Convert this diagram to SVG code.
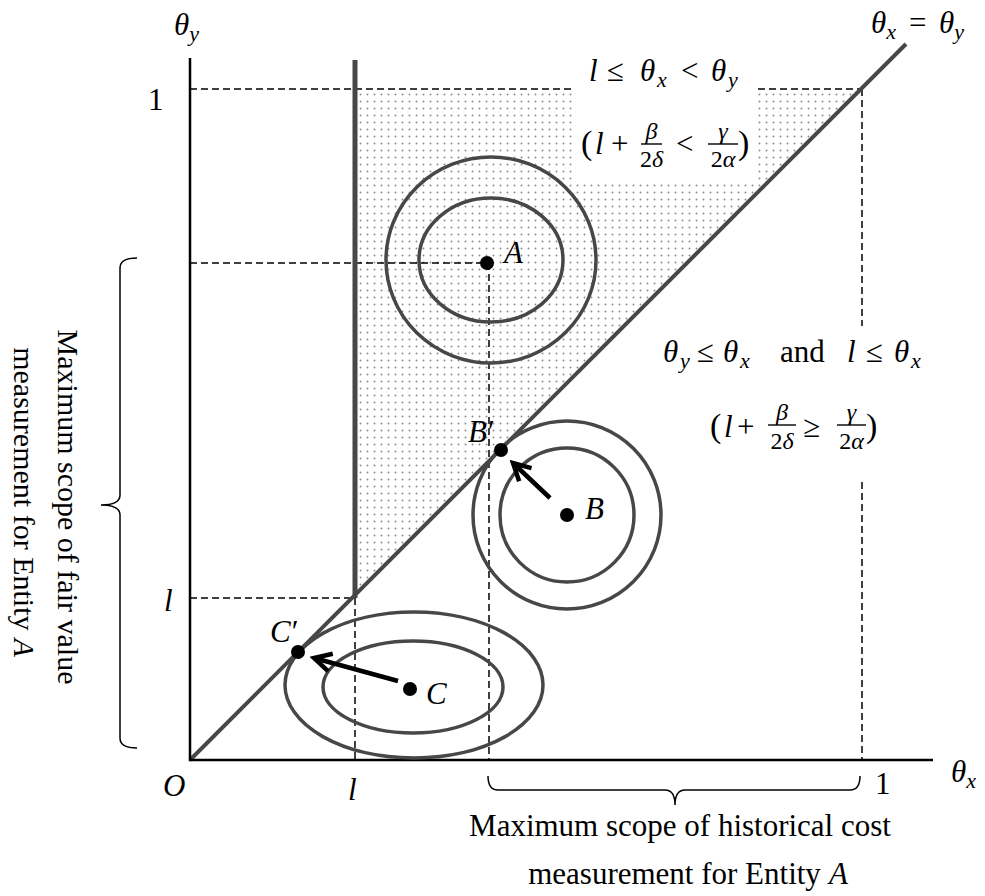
<svg xmlns="http://www.w3.org/2000/svg" width="985" height="896" viewBox="0 0 985 896">
<style>
.m{font-family:"Liberation Serif","DejaVu Serif",serif;font-size:31px;fill:#000}
.f{font-family:"Liberation Serif","DejaVu Serif",serif;font-size:24px;fill:#000}
.i{font-style:italic}
.s{font-size:22px}
.p{font-size:34px}
.t{font-family:"Liberation Serif",serif;font-size:31px;fill:#000}
.tl{font-family:"Liberation Serif",serif;font-size:30px;fill:#000}
.ax{stroke:#000;stroke-width:2.5;fill:none}
.ds{stroke:#000;stroke-width:1.5;stroke-dasharray:7 4;fill:none}
.ring{stroke:#474747;stroke-width:3.5;fill:none}
.br{stroke:#000;stroke-width:1.5;fill:none}
.ar{stroke:#000;stroke-width:4.5;fill:none}
.bar{stroke:#000;stroke-width:1.4}
.dot{fill:#000}
</style>
<defs>
<pattern id="dots" width="7" height="7" patternUnits="userSpaceOnUse"><circle cx="3.5" cy="3.5" r="0.95" fill="#8a8a8a"/></pattern>
<marker id="ah" viewBox="-24 -14 28 28" markerWidth="28" markerHeight="28" refX="0" refY="0" orient="auto" markerUnits="userSpaceOnUse"><path d="M-17,-9 L0,0 L-17,9" fill="none" stroke="#000" stroke-width="4.5"/></marker>
</defs>
<rect width="985" height="896" fill="#fff"/>
<g id="region">
<polygon points="357,89 861,89 357,593" fill="url(#dots)"/>
<rect x="575" y="50" width="183" height="130" fill="#fff"/>
</g>
<g id="guides">
<path class="ds" d="M190,89 H575 M758,89 H862 M862,89 V326 M862,482 V760 M190,263 H487 M489,263 V760 M190,598 H355 M355,598 V760"/>
</g>
<g id="boundaries">
<path d="M355,60 V598" stroke="#474747" stroke-width="5" fill="none"/>
<path d="M190,760 L906,44" stroke="#474747" stroke-width="4" fill="none"/>
</g>
<g id="axes">
<path class="ax" d="M190,58 V760 H933"/>
</g>
<g id="nodeA">
<ellipse class="ring" cx="491" cy="260" rx="105" ry="103"/>
<ellipse class="ring" cx="491" cy="260" rx="72" ry="62"/>
<circle class="dot" cx="487" cy="263" r="7"/>
<text class="m i" x="504" y="263">A</text>
</g>
<g id="nodeB">
<circle class="ring" cx="567" cy="515" r="94"/>
<circle class="ring" cx="567" cy="515" r="67"/>
<circle class="dot" cx="567" cy="515" r="7"/>
<text class="m i" x="585" y="519">B</text>
</g>
<g id="nodeBp">
<circle class="dot" cx="501" cy="450" r="7"/>
<text class="m" x="468" y="442"><tspan class="i">B</tspan><tspan dx="1">′</tspan></text>
</g>
<g id="nodeC">
<ellipse class="ring" cx="414" cy="685" rx="129" ry="73"/>
<ellipse class="ring" cx="413" cy="687" rx="90" ry="46"/>
<circle class="dot" cx="410" cy="689" r="7"/>
<text class="m i" x="426" y="704">C</text>
</g>
<g id="nodeCp">
<circle class="dot" cx="298" cy="652" r="7"/>
<text class="m" x="270" y="642"><tspan class="i">C</tspan><tspan dx="1">′</tspan></text>
</g>
<g id="connectors">
<path class="ar" d="M550,498 L513,463" marker-end="url(#ah)"/>
<path class="ar" d="M398,681 L314,658" marker-end="url(#ah)"/>
</g>
<g id="axis-labels">
<text class="m i" x="174" y="35">θ<tspan class="s" dy="6">y</tspan></text>
<text class="m i" x="951" y="782">θ<tspan class="s" dy="6">x</tspan></text>
<text class="m i" x="163" y="796">O</text>
<text class="m i" x="164" y="611">l</text>
<text class="m i" x="348" y="800">l</text>
<text class="m" x="148" y="110">1</text>
<text class="m" x="875" y="794">1</text>
<text class="m" y="33"><tspan class="i" x="871">θ</tspan><tspan class="i s" dy="6">x</tspan><tspan x="909" dy="-6">=</tspan><tspan class="i" x="939">θ</tspan><tspan class="i s" dy="6">y</tspan></text>
</g>
<g id="upper-condition">
<text class="m" y="81"><tspan x="589" class="i">l</tspan><tspan x="607">≤</tspan><tspan x="640" class="i">θ</tspan><tspan x="657" dy="6" class="i s">x</tspan><tspan x="681" dy="-6">&lt;</tspan><tspan x="711" class="i">θ</tspan><tspan x="728" dy="6" class="i s">y</tspan></text>
<text class="m" y="154"><tspan x="581" class="p">(</tspan><tspan x="595" class="i">l</tspan><tspan x="611">+</tspan><tspan x="676">&lt;</tspan><tspan x="738" class="p">)</tspan></text>
<line class="bar" x1="641" y1="144" x2="662" y2="144"/>
<text class="f i" x="651.5" y="139" text-anchor="middle">β</text>
<text class="f" x="651.5" y="167" text-anchor="middle">2<tspan class="i">δ</tspan></text>
<line class="bar" x1="708" y1="144" x2="738" y2="144"/>
<text class="f i" x="723" y="139" text-anchor="middle">γ</text>
<text class="f" x="723" y="167" text-anchor="middle">2<tspan class="i">α</tspan></text>
</g>
<g id="lower-condition">
<text class="m" y="362"><tspan x="663" class="i">θ</tspan><tspan x="680" dy="6" class="i s">y</tspan><tspan x="697" dy="-6">≤</tspan><tspan x="723" class="i">θ</tspan><tspan x="740" dy="6" class="i s">x</tspan><tspan x="780" dy="-6">and</tspan><tspan x="847" class="i">l</tspan><tspan x="866">≤</tspan><tspan x="894" class="i">θ</tspan><tspan x="911" dy="6" class="i s">x</tspan></text>
<text class="m" y="437"><tspan x="710" class="p">(</tspan><tspan x="724" class="i">l</tspan><tspan x="737">+</tspan><tspan x="803">≥</tspan><tspan x="866" class="p">)</tspan></text>
<line class="bar" x1="768" y1="425" x2="796" y2="425"/>
<text class="f i" x="782" y="420" text-anchor="middle">β</text>
<text class="f" x="782" y="449" text-anchor="middle">2<tspan class="i">δ</tspan></text>
<line class="bar" x1="837" y1="425" x2="866" y2="425"/>
<text class="f i" x="851.5" y="420" text-anchor="middle">γ</text>
<text class="f" x="851.5" y="449" text-anchor="middle">2<tspan class="i">α</tspan></text>
</g>
<g id="fair-value-brace">
<path class="br" d="M137,258 Q120,258 120,268 L120,495 Q120,505 101,505 Q120,505 120,515 L120,738 Q120,748 137,748"/>
<text class="tl" transform="translate(58,507) rotate(90)" text-anchor="middle">Maximum scope of fair value</text>
<text class="tl" transform="translate(14,502) rotate(90)" text-anchor="middle">measurement for Entity<tspan class="i" dx="8">A</tspan></text>
</g>
<g id="historical-cost-brace">
<path class="br" d="M488,776 Q488,790 498,790 L665,790 Q675,790 675,805 Q675,790 685,790 L850,790 Q860,790 860,776"/>
<text class="t" x="680" y="836" text-anchor="middle">Maximum scope of historical cost</text>
<text class="t" x="688" y="884" text-anchor="middle">measurement for Entity<tspan class="i" dx="8">A</tspan></text>
</g>
</svg>
